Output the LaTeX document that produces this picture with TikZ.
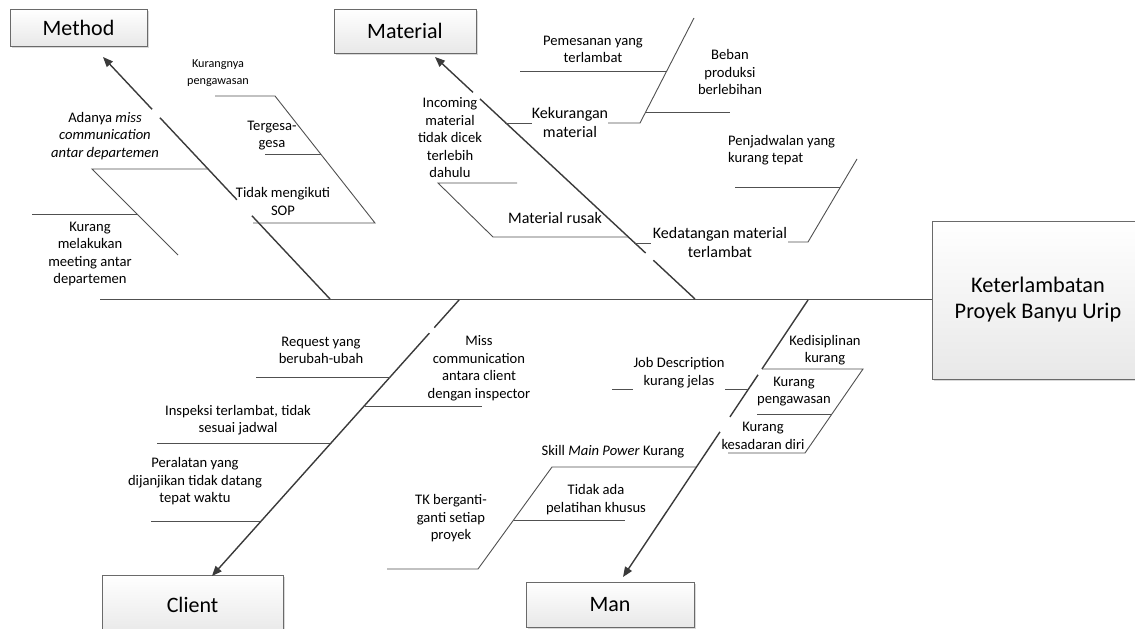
\documentclass[tikz,border=0pt]{standalone}
\usepackage{fontspec}
\setmainfont{Carlito}
\usetikzlibrary{arrows.meta,calc,shadows}
\definecolor{bonec}{HTML}{3A3A3A}
\definecolor{subc}{HTML}{505050}
\definecolor{boxline}{HTML}{6A6A6A}
\tikzset{
  catbox/.style={draw=boxline, line width=1pt, top color=white, bottom color=black!9,
    drop shadow={shadow xshift=1.5pt, shadow yshift=-1.5pt, fill=black!25, opacity=0.6},
    font=\fontsize{22}{26}\selectfont, inner sep=0pt},
  bone/.style={draw=bonec, line width=1.4pt},
  spine/.style={draw=subc, line width=1pt},
  sub/.style={draw=subc, line width=0.9pt, line join=miter},
  arr/.style={-{Triangle[length=10pt,width=8pt]}},
  lbl/.style={align=center, inner sep=0pt, font=\fontsize{14.6}{17.5}\selectfont},
  lblm/.style={align=center, inner sep=0pt, font=\fontsize{16}{19}\selectfont},
  lbls/.style={align=center, inner sep=0pt, font=\fontsize{12.2}{17}\selectfont}
}
\begin{document}
\begin{tikzpicture}[x=1pt,y=-1pt]
\useasboundingbox (0,0) rectangle (1135,629);
\clip (0,0) rectangle (1135,629);

% boxes
\node[catbox, minimum width=137pt, minimum height=37pt] (method) at (78.5,27.5) {Method};
\node[catbox, minimum width=142pt, minimum height=44pt] (material) at (405,31) {Material};
\node[catbox, minimum width=181pt, minimum height=60pt] (client) at (192.5,605) {Client};
\node[catbox, minimum width=168pt, minimum height=45pt] (man) at (610,604.5) {Man};
\node[catbox, minimum width=212pt, minimum height=158pt, align=center,
      font=\fontsize{22.3}{26}\selectfont] (head) at (1038,300) {Keterlambatan\\Proyek Banyu Urip};

% spine
\coordinate (tail) at (100,299);
\draw[spine] (tail) -- (head.west |- tail);

% ---------- Method ----------
\coordinate (mA) at (103,57); \coordinate (mS) at (330,299);
\draw[bone,arr] ($(mA)!0.216!(mS)$) -- (mA);
\draw[bone] ($(mA)!0.251!(mS)$) -- ($(mA)!0.590!(mS)$);
\draw[bone] ($(mA)!0.656!(mS)$) -- (mS);
\draw[sub] (215,96) -- (275,96) -- (375,223) -- (253,223);
\draw[sub] (265,154) -- (321,154);
\draw[sub] (208,169) -- (92,169) -- (178,255);
\draw[sub] (32,214) -- (137,214);
\node[lbls] (m1) at (218,73.5) {Kurangnya\\pengawasan};
\node[lbl] (m2) at (272,135.5) {Tergesa-\\gesa};
\node[lbl] (m3) at (283,201.5) {Tidak mengikuti\\SOP};
\node[lbl] (m4) at (105,136) {Adanya \textit{miss}\\\textit{communication}\\\textit{antar departemen}};
\node[lbl] (m5) at (90,254) {Kurang\\melakukan\\meeting antar\\departemen};

% ---------- Material ----------
\coordinate (tA) at (435,57); \coordinate (tS) at (695,299);
\draw[bone,arr] ($(tA)!0.146!(tS)$) -- (tA);
\draw[bone] ($(tA)!0.173!(tS)$) -- ($(tA)!0.81!(tS)$);
\draw[bone] ($(tA)!0.84!(tS)$) -- (tS);
\draw[sub] (505,123) -- (532,123);
\draw[sub] (608,123) -- (640,123) -- (694,18);
\draw[sub] (520,71) -- (667,71);
\draw[sub] (646,112) -- (730,112);
\draw[sub] (628,237) -- (493,237) -- (438,183) -- (517,183);
\draw[sub] (634,243) -- (651,243);
\draw[sub] (788,242) -- (808,242) -- (857,159);
\draw[sub] (735,187) -- (840,187);
\node[lblm] (t1) at (570,122.5) {Kekurangan\\material};
\node[lbl] (t2) at (593,49.5) {Pemesanan yang\\terlambat};
\node[lbl] (t3) at (730,72) {Beban\\produksi\\berlebihan};
\node[lbl] (t4) at (450,138) {Incoming\\material\\tidak dicek\\terlebih\\dahulu};
\node[lblm] (t5) at (555,218) {Material rusak};
\node[lblm] (t6) at (720,242.5) {Kedatangan material\\terlambat};
\node[lbl, align=left, anchor=west] (t7) at (728,150) {Penjadwalan yang\\kurang tepat};

% ---------- Client ----------
\coordinate (cS) at (459,300); \coordinate (cA) at (212,576);
\draw[bone] (cS) -- ($(cS)!0.10!(cA)$);
\draw[bone,arr] ($(cS)!0.12!(cA)$) -- (cA);
\draw[sub] (256,377) -- (390,377);
\draw[sub] (365,406) -- (482,406);
\draw[sub] (157,443) -- (330,443);
\draw[sub] (151,521) -- (260,521);
\node[lbl] (c1) at (321,350.5) {Request yang\\berubah-ubah};
\node[lbl] (c2) at (479,368) {Miss\\communication\\antara client\\dengan inspector};
\node[lbl] (c3) at (238,420) {Inspeksi terlambat, tidak\\sesuai jadwal};
\node[lbl] (c4) at (195,481.5) {Peralatan yang\\dijanjikan tidak datang\\tepat waktu};

% ---------- Man ----------
\coordinate (nS) at (808,300); \coordinate (nA) at (623,577);
\draw[bone] (nS) -- ($(nS)!0.249!(nA)$);
\draw[bone] ($(nS)!0.270!(nA)$) -- ($(nS)!0.422!(nA)$);
\draw[bone,arr] ($(nS)!0.476!(nA)$) -- (nA);
\draw[sub] (762,369) -- (863,369) -- (805,453) -- (728,453);
\draw[sub] (757,414) -- (832,414);
\draw[sub] (612,389) -- (633,389);
\draw[sub] (725,389) -- (748,389);
\draw[sub] (696,467) -- (552,467) -- (478,569) -- (387,569);
\draw[sub] (514,520) -- (625,520);
\node[lbl] (n1) at (825,350) {Kedisiplinan\\kurang};
\node[lbl] (n2) at (794,391.5) {Kurang\\pengawasan};
\node[lbl] (n3) at (763,436) {Kurang\\kesadaran diri};
\node[lbl] (n4) at (679,372.5) {Job Description\\kurang jelas};
\node[lbl] (n5) at (613,452) {Skill \textit{Main Power} Kurang};
\node[lbl] (n6) at (596,499.5) {Tidak ada\\pelatihan khusus};
\node[lbl] (n7) at (451,518.5) {TK berganti-\\ganti setiap\\proyek};
\end{tikzpicture}
\end{document}
